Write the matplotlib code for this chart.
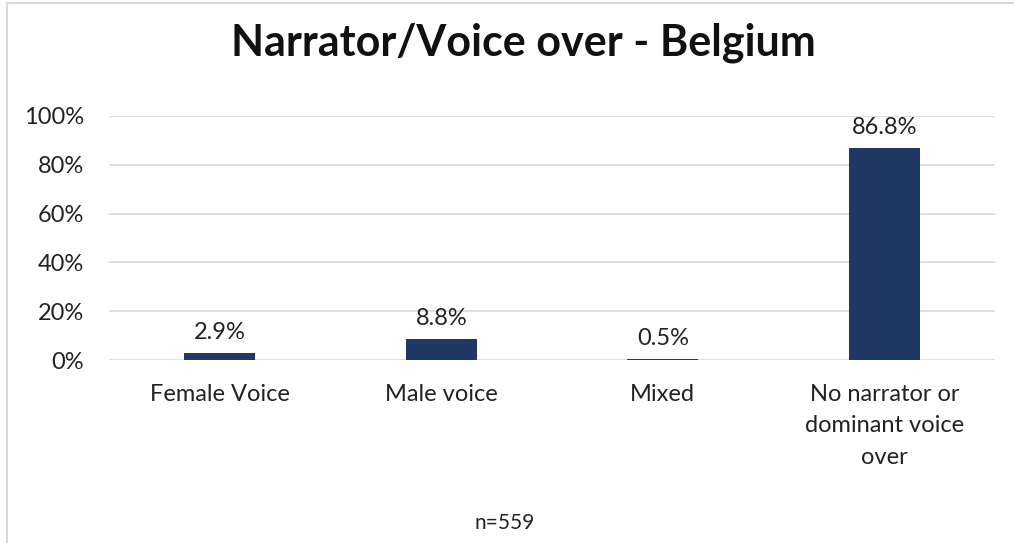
import matplotlib
matplotlib.use("Agg")
import matplotlib.pyplot as plt
from matplotlib.lines import Line2D
import numpy as np

# chart data
categories = ["Female Voice", "Male voice", "Mixed", "No narrator or\ndominant voice\nover"]
shares = [2.9, 8.8, 0.5, 86.8]
y_ticks = [0, 20, 40, 60, 80, 100]
title = "Narrator/Voice over - Belgium"
note = "n=559"

plt.rcParams['font.family'] = ['Lato', 'DejaVu Sans']

fig = plt.figure(figsize=(10.14, 5.43), dpi=100)
ax = fig.add_axes([0.1075, 0.337, 0.8738, 0.4494])

x = np.arange(len(categories))
ax.bar(x, shares, width=0.32, color="#203864", zorder=3)
for xi, v in zip(x, shares):
    ax.text(xi, v + 4, f"{v:.1f}%", ha="center", va="bottom", fontsize=17, color="#222222")

ax.set_xlim(-0.5, len(categories) - 0.5)
ax.set_ylim(0, 100)
ax.set_yticks(y_ticks)
ax.set_yticklabels([f"{t}%" for t in y_ticks], fontsize=17, color="#222222")
ax.set_xticks(x)
ax.set_xticklabels(categories, fontsize=17, color="#222222", linespacing=1.62, va="top")
ax.tick_params(axis="both", length=0)
ax.tick_params(axis="y", pad=18)
ax.tick_params(axis="x", pad=17)
ax.grid(axis="y", color="#D9D9D9", linewidth=1.2, zorder=0)
for s in ax.spines.values():
    s.set_visible(False)

fig.text(0.516, 0.922, title, ha="center", va="center", fontsize=31, fontweight="bold", color="#111111")
fig.text(0.498, 0.037, note, ha="center", va="center", fontsize=15, color="#222222")

# chart frame (top and left edges visible)
fig.add_artist(Line2D([0.007, 0.007], [0, 0.995], transform=fig.transFigure, color="#D9D9D9", linewidth=1.5))
fig.add_artist(Line2D([0.007, 1.0], [0.995, 0.995], transform=fig.transFigure, color="#D9D9D9", linewidth=1.5))

fig.savefig("out.png", dpi=100)
